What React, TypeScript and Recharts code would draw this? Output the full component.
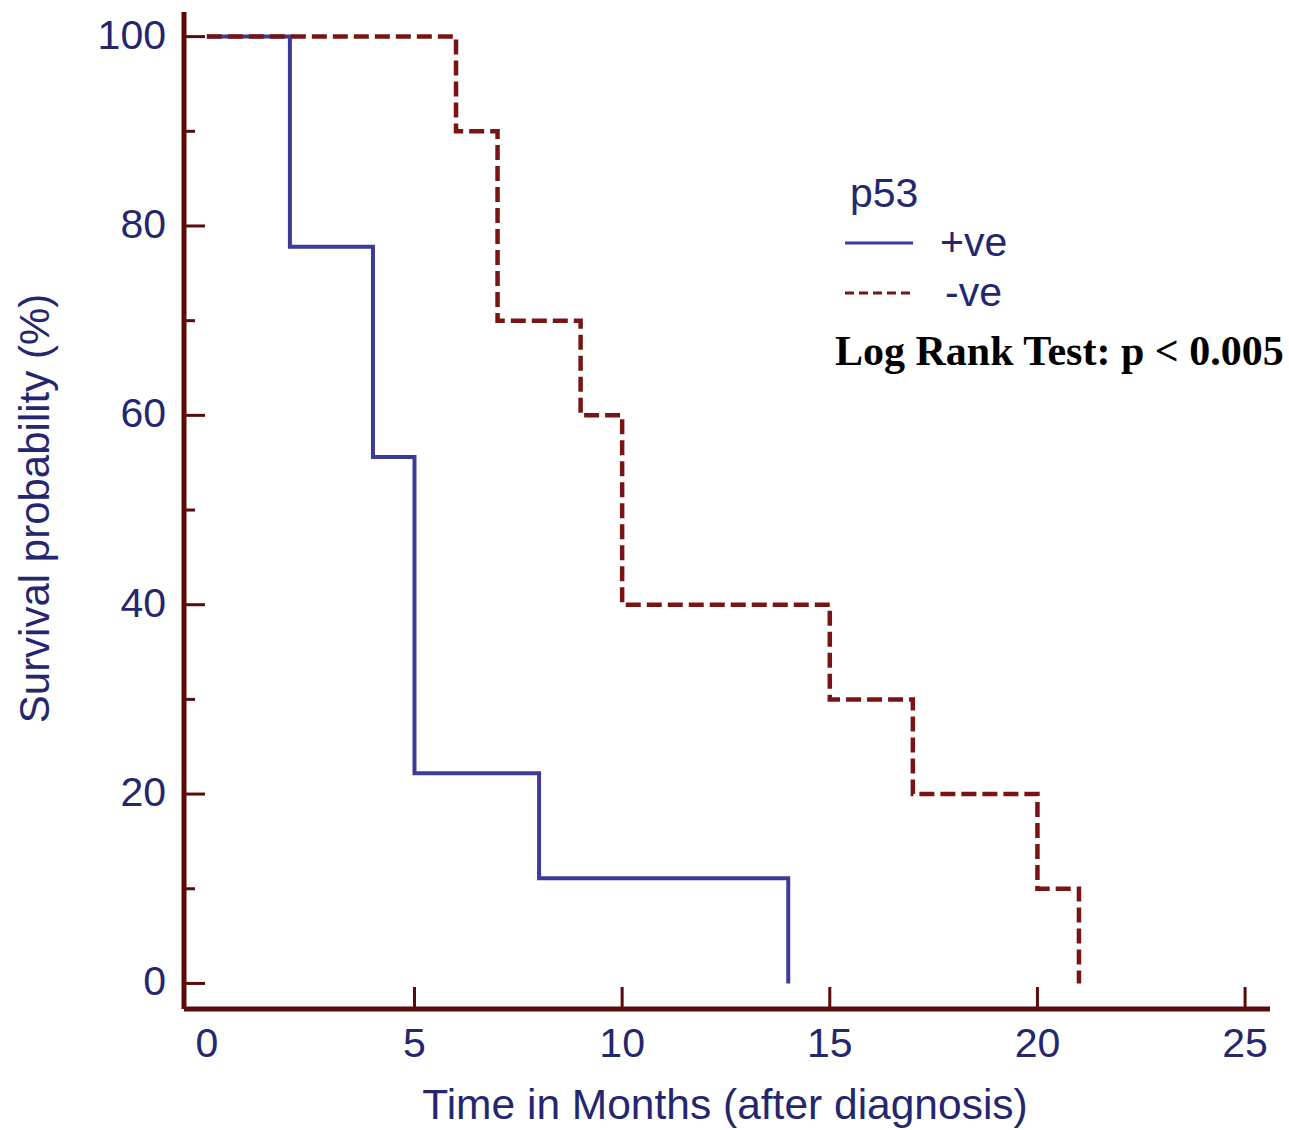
import React from 'react';
import { LineChart, Line, XAxis, YAxis, Label } from 'recharts';

// Kaplan-Meier steps
const positiveTime = [0, 2, 4, 5, 8, 14];
const positiveSurvival = [100, 77.8, 55.6, 22.2, 11.1, 0];

const negativeTime = [0, 6, 7, 9, 10, 15, 17, 20, 21];
const negativeSurvival = [100, 90, 70, 60, 40, 30, 20, 10, 0];

const xTicks = [0, 5, 10, 15, 20, 25];
const yTicks = [0, 10, 20, 30, 40, 50, 60, 70, 80, 90, 100];

const AXIS = '#5c0b0b';
const TEXT = '#25276e';
const BLUE = '#3b3b98';
const RED = '#7a1414';
const SANS = '"Liberation Sans", Arial, sans-serif';

const toRows = (t: number[], s: number[]) => t.map((v, i) => ({ t: v, s: s[i] }));
const positiveData = toRows(positiveTime, positiveSurvival);
const negativeData = toRows(negativeTime, negativeSurvival);

const YTick = (props: any) => {
  const { x, y, payload } = props;
  const major = payload.value % 20 === 0;
  return (
    <g>
      <line x1={x} x2={x + (major ? 21 : 11)} y1={y} y2={y} stroke={AXIS} strokeWidth={3} />
      {major && (
        <text x={x - 18} y={y + 12} textAnchor="end" fill={TEXT} fontSize={41} fontFamily={SANS}>
          {payload.value}
        </text>
      )}
    </g>
  );
};

const XTick = (props: any) => {
  const { x, y, payload } = props;
  return (
    <g>
      {payload.value !== 0 && (
        <line x1={x} x2={x} y1={y} y2={y - 22} stroke={AXIS} strokeWidth={3} />
      )}
      <text x={x} y={y + 48} textAnchor="middle" fill={TEXT} fontSize={41} fontFamily={SANS}>
        {payload.value}
      </text>
    </g>
  );
};

const App = () => {
  return (
    <div style={{ position: 'absolute', left: 0, top: 0, width: 1289, height: 1130, background: '#fff' }}>
      <LineChart width={1289} height={1130} margin={{ top: 12, right: 19, left: 84, bottom: 21 }}>
        <XAxis
          type="number"
          dataKey="t"
          domain={[-0.55, 25.6]}
          ticks={xTicks}
          allowDataOverflow
          height={100}
          tickSize={0}
          tickMargin={0}
          tickLine={false}
          axisLine={{ stroke: AXIS, strokeWidth: 5 }}
          tick={<XTick />}
          interval={0}
        >
          <Label
            content={(p: any) => (
              <text
                x={p.viewBox.x + p.viewBox.width / 2 - 2}
                y={p.viewBox.y + 110}
                textAnchor="middle"
                fill={TEXT}
                fontSize={42.5}
                fontFamily={SANS}
              >
                Time in Months (after diagnosis)
              </text>
            )}
          />
        </XAxis>
        <YAxis
          type="number"
          dataKey="s"
          domain={[-2.7, 102.6]}
          ticks={yTicks}
          allowDataOverflow
          width={100}
          tickSize={0}
          tickMargin={0}
          tickLine={false}
          axisLine={{ stroke: AXIS, strokeWidth: 5 }}
          tick={<YTick />}
          interval={0}
        >
          <Label
            content={(p: any) => {
              const cx = 34;
              const cy = p.viewBox.y + p.viewBox.height / 2 - 2;
              return (
                <text
                  x={cx}
                  y={cy}
                  transform={`rotate(-90 ${cx} ${cy})`}
                  textAnchor="middle"
                  dominantBaseline="central"
                  fill={TEXT}
                  fontSize={42}
                  fontFamily={SANS}
                >
                  Survival probability (%)
                </text>
              );
            }}
          />
        </YAxis>
        <Line
          data={positiveData}
          dataKey="s"
          type="stepAfter"
          stroke={BLUE}
          strokeWidth={4}
          dot={false}
          isAnimationActive={false}
        />
        <Line
          data={negativeData}
          dataKey="s"
          type="stepAfter"
          stroke={RED}
          strokeWidth={4.5}
          strokeDasharray="15 6"
          dot={false}
          isAnimationActive={false}
        />
      </LineChart>
      <svg
        width={460}
        height={200}
        style={{ position: 'absolute', left: 829, top: 160, overflow: 'visible' }}
      >
        <text x={21} y={47} fill={TEXT} fontSize={41} fontFamily={SANS}>p53</text>
        <line x1={16} x2={84} y1={83} y2={83} stroke={BLUE} strokeWidth={3} />
        <text x={111} y={96} fill={TEXT} fontSize={41} fontFamily={SANS}>+ve</text>
        <line x1={16} x2={84} y1={133} y2={133} stroke={RED} strokeWidth={3} strokeDasharray="9 5" />
        <text x={116} y={146} fill={TEXT} fontSize={41} fontFamily={SANS}>-ve</text>
        <text
          x={6}
          y={205}
          fill="#000"
          fontSize={42}
          fontWeight="bold"
          fontFamily='"Liberation Serif", "Times New Roman", serif'
        >
          Log Rank Test: p &lt; 0.005
        </text>
      </svg>
    </div>
  );
};

export default App;
